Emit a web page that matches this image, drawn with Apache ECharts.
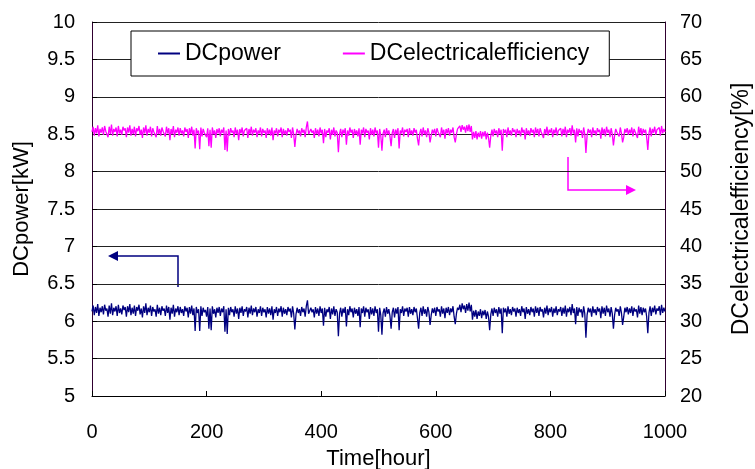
<!DOCTYPE html>
<html>
<head>
<meta charset="utf-8">
<script src="https://cdn.jsdelivr.net/npm/echarts@6/dist/echarts.min.js"></script>
<style>
  html, body { margin: 0; padding: 0; background: #fff; }
  #chart { width: 755px; height: 469px; }
</style>
</head>
<body>
<div id="chart"></div>
<script>
// logged every 2 hours, 0 .. 1000
const stepHour = 2;

// DC power [kW]
const dcPower = [
  6.13,6.21,6.08,6.19,6.11,6.23,6.07,6.18,6.12,6.20,
  6.09,6.22,6.14,6.17,6.06,6.21,6.10,6.24,6.08,6.18,
  6.13,6.20,6.07,6.22,6.11,6.17,6.09,6.21,6.15,6.19,
  6.06,6.20,6.12,6.23,6.08,6.18,6.10,6.21,6.07,6.19,
  6.14,6.22,6.09,6.17,6.05,6.20,6.11,6.24,6.08,6.18,
  6.12,6.21,6.07,6.19,6.13,6.16,6.06,6.22,6.10,6.18,
  6.08,6.20,6.14,6.17,6.07,6.21,6.11,6.19,6.02,6.18,
  6.10,6.22,6.06,6.17,6.12,6.20,6.08,6.19,6.11,6.16,
  6.07,6.20,6.13,6.18,6.05,6.19,6.10,6.21,6.08,6.17,
  5.87,6.19,6.11,6.16,5.87,6.20,6.07,6.18,6.12,6.15,
  6.06,6.19,5.90,6.17,5.88,6.20,6.10,6.16,6.05,6.18,
  6.11,6.19,6.07,6.17,6.12,6.20,5.86,6.16,5.83,6.18,
  6.08,6.19,6.12,6.16,6.06,6.20,6.10,6.17,6.03,6.18,
  6.11,6.20,6.07,6.16,6.13,6.19,6.05,6.18,6.10,6.21,
  6.08,6.17,6.12,6.19,6.06,6.16,6.11,6.20,6.07,6.18,
  6.12,6.16,6.05,6.19,6.10,6.17,6.08,6.20,6.02,6.16,
  6.11,6.19,6.07,6.17,6.12,6.20,6.06,6.18,6.10,6.16,
  6.08,6.19,6.13,6.17,6.05,6.20,6.10,5.89,6.09,6.18,
  6.11,6.16,6.07,6.19,6.12,6.17,6.06,6.20,6.28,6.10,
  6.08,6.18,6.12,6.16,6.05,6.19,6.10,6.17,6.07,6.20,
  6.11,6.17,5.94,6.18,6.06,6.16,6.12,6.19,6.03,6.17,
  6.09,6.20,6.07,6.16,6.12,5.80,6.10,6.18,6.06,6.17,
  6.11,6.19,5.93,6.16,6.08,6.20,6.12,6.17,6.05,6.18,
  6.10,6.16,6.07,6.19,5.92,6.17,6.11,6.20,6.06,6.18,
  6.12,6.16,6.03,6.19,6.09,6.17,6.07,6.20,6.11,6.16,
  5.86,6.18,6.08,5.82,6.11,6.17,6.06,6.19,6.10,6.16,
  6.07,5.90,6.12,6.18,6.05,6.17,6.10,6.19,5.88,6.16,
  6.11,6.20,6.07,6.17,6.13,6.18,6.06,6.19,6.10,6.16,
  6.08,6.19,6.12,6.17,6.04,5.90,6.11,6.18,6.07,6.20,
  6.10,6.16,6.06,6.19,6.12,5.95,6.08,6.17,6.11,6.18,
  6.07,6.19,6.13,6.16,6.06,6.20,6.10,6.17,6.04,6.18,
  6.11,6.19,6.08,6.17,6.12,6.20,6.06,5.96,6.10,6.18,
  6.15,6.22,6.12,6.24,6.16,6.21,6.11,6.23,6.14,6.25,
  6.13,6.22,6.02,6.14,6.06,6.15,6.03,6.13,6.07,6.16,
  6.04,6.14,6.08,6.15,6.03,6.13,6.06,5.88,6.09,6.17,
  6.07,6.18,6.11,6.16,6.06,6.19,6.10,6.17,5.84,6.18,
  6.12,6.17,6.06,6.20,6.10,6.16,6.08,6.19,6.13,6.17,
  6.06,6.18,6.11,6.16,6.07,6.20,6.12,6.17,6.03,6.19,
  6.10,6.16,6.08,6.19,6.12,6.17,6.06,6.20,6.11,6.18,
  6.07,6.19,6.13,6.16,6.05,6.18,6.10,6.21,6.08,6.17,
  6.12,6.19,6.06,6.17,6.11,6.20,6.08,6.16,6.13,6.19,
  6.07,6.18,6.10,6.21,6.06,6.17,6.12,6.19,6.08,6.23,
  6.11,6.17,5.96,6.19,6.07,6.18,6.12,6.16,6.05,6.20,
  6.10,5.78,6.08,6.18,6.12,6.17,6.06,6.20,6.11,6.16,
  6.08,6.19,6.13,6.17,6.04,6.20,6.10,6.18,6.07,6.21,
  6.12,6.17,6.06,6.19,6.10,5.90,6.08,6.18,6.13,6.16,
  6.07,6.20,6.11,5.95,6.06,6.18,6.12,6.19,6.09,6.17,
  6.11,6.20,6.07,6.18,6.13,6.16,6.05,6.21,6.10,6.19,
  6.08,6.18,6.12,6.17,6.06,5.84,6.11,6.20,6.07,6.18,
  6.12,6.21,6.09,6.17,6.14,6.20,6.08,6.22,6.11,6.18,
  6.13
];

// DC electrical efficiency [%]
const dcEfficiency = [
  55.3,56.0,54.8,55.8,55.1,56.2,54.7,55.7,55.2,55.9,
  54.9,56.1,55.4,55.6,54.6,56.0,55.0,56.3,54.8,55.7,
  55.3,55.9,54.7,56.1,55.1,55.6,54.9,56.0,55.5,55.8,
  54.6,55.9,55.2,56.2,54.8,55.7,55.0,56.0,54.7,55.8,
  55.4,56.1,54.9,55.6,54.5,55.9,55.1,56.2,54.8,55.7,
  55.2,56.0,54.7,55.8,55.3,55.5,54.6,56.1,55.0,55.7,
  54.8,55.9,55.4,55.6,54.7,56.0,55.1,55.8,54.2,55.7,
  55.0,56.1,54.6,55.6,55.2,55.9,54.8,55.8,55.1,55.5,
  54.7,55.9,55.3,55.7,54.5,55.8,55.0,56.0,54.8,55.6,
  53.1,55.8,55.1,55.5,53.0,55.9,54.7,55.7,55.2,55.4,
  54.6,55.8,53.4,55.6,53.2,55.9,55.0,55.5,54.5,55.7,
  55.1,55.8,54.7,55.6,55.2,55.9,52.9,55.5,52.7,55.7,
  54.8,55.8,55.2,55.5,54.6,55.9,55.0,55.6,54.2,55.7,
  55.1,55.9,54.7,55.5,55.3,55.8,54.5,55.7,55.0,56.0,
  54.8,55.6,55.2,55.8,54.6,55.5,55.1,55.9,54.7,55.7,
  55.2,55.5,54.5,55.8,55.0,55.6,54.8,55.9,54.2,55.5,
  55.1,55.8,54.7,55.6,55.2,55.9,54.6,55.7,55.0,55.5,
  54.8,55.8,55.3,55.6,54.5,55.9,55.0,53.3,54.9,55.7,
  55.1,55.5,54.7,55.8,55.2,55.6,54.6,55.9,56.7,55.0,
  54.8,55.7,55.2,55.5,54.5,55.8,55.0,55.6,54.7,55.9,
  55.1,55.6,53.8,55.7,54.6,55.5,55.2,55.8,54.3,55.6,
  54.9,55.9,54.7,55.5,55.2,52.6,55.0,55.7,54.6,55.6,
  55.1,55.8,53.6,55.5,54.8,55.9,55.2,55.6,54.5,55.7,
  55.0,55.5,54.7,55.8,53.6,55.6,55.1,55.9,54.6,55.7,
  55.2,55.5,54.3,55.8,54.9,55.6,54.7,55.9,55.1,55.5,
  53.2,55.7,54.8,52.8,55.1,55.6,54.6,55.8,55.0,55.5,
  54.7,53.4,55.2,55.7,54.5,55.6,55.0,55.8,53.1,55.5,
  55.1,55.9,54.7,55.6,55.3,55.7,54.6,55.8,55.0,55.5,
  54.8,55.8,55.2,55.6,54.4,53.5,55.1,55.7,54.7,55.9,
  55.0,55.5,54.6,55.8,55.2,53.9,54.8,55.6,55.1,55.7,
  54.7,55.8,55.3,55.5,54.6,55.9,55.0,55.6,54.4,55.7,
  55.1,55.8,54.8,55.6,55.2,55.9,54.6,53.9,55.0,55.7,
  55.5,56.1,55.3,56.2,55.6,56.0,55.2,56.2,55.4,56.3,
  55.3,56.1,54.3,55.3,54.5,55.4,54.3,55.2,54.6,55.4,
  54.4,55.3,54.7,55.4,54.3,55.2,54.5,53.2,54.8,55.6,
  54.7,55.7,55.1,55.5,54.6,55.8,55.0,55.6,52.8,55.7,
  55.2,55.6,54.6,55.9,55.0,55.5,54.8,55.8,55.3,55.6,
  54.6,55.7,55.1,55.5,54.7,55.9,55.2,55.6,54.3,55.8,
  55.0,55.5,54.8,55.8,55.2,55.6,54.6,55.9,55.1,55.7,
  54.7,55.8,55.3,55.5,54.5,55.7,55.0,56.0,54.8,55.6,
  55.2,55.8,54.6,55.6,55.1,55.9,54.8,55.5,55.3,55.8,
  54.7,55.7,55.0,56.0,54.6,55.6,55.2,55.8,54.8,56.2,
  55.1,55.6,53.9,55.8,54.7,55.7,55.2,55.5,54.5,55.9,
  55.0,52.5,54.8,55.7,55.2,55.6,54.6,55.9,55.1,55.5,
  54.8,55.8,55.3,55.6,54.4,55.9,55.0,55.7,54.7,56.0,
  55.2,55.6,54.6,55.8,55.0,53.5,54.8,55.7,55.3,55.5,
  54.7,55.9,55.1,53.9,54.6,55.7,55.2,55.8,54.9,55.6,
  55.1,55.9,54.7,55.7,55.3,55.5,54.5,56.0,55.0,55.8,
  54.8,55.7,55.2,55.6,54.6,52.9,55.1,55.9,54.7,55.7,
  55.2,56.0,54.9,55.6,55.4,55.9,54.8,56.1,55.1,55.7,
  55.3
];

const seriesNames = ['DCpower', 'DCelectricalefficiency'];
const xTicks = [0, 1000, 200];      // min, max, interval
const leftTicks = [5, 10, 0.5];
const rightTicks = [20, 70, 5];

const font = 'Arial, "Liberation Sans", sans-serif';
const blue = '#000080';
const pink = '#ff00ff';

function toPairs(values) {
  return values.map((v, i) => [i * stepHour, v]);
}

const chart = echarts.init(document.getElementById('chart'), null, {renderer: 'canvas'});

chart.setOption({
  animation: false,
  backgroundColor: '#fff',
  textStyle: {fontFamily: font, color: '#000'},
  grid: {left: 92, right: 90, top: 22, bottom: 73, outerBoundsMode: 'none'},
  legend: {
    data: seriesNames,
    left: 131,
    top: 31,
    padding: [11, 20, 11, 27],
    itemGap: 62,
    itemWidth: 22,
    itemHeight: 2,
    icon: 'rect',
    borderColor: '#000',
    borderWidth: 1,
    backgroundColor: '#fff',
    textStyle: {fontSize: 23, fontFamily: font, color: '#000'}
  },
  xAxis: {
    type: 'value',
    min: xTicks[0], max: xTicks[1], interval: xTicks[2],
    name: 'Time[hour]',
    nameLocation: 'middle',
    nameGap: 52,
    nameTextStyle: {fontSize: 22, fontFamily: font, color: '#000'},
    axisLine: {lineStyle: {color: '#000', width: 1}},
    axisTick: {inside: true, length: 5, lineStyle: {color: '#000'}},
    axisLabel: {fontSize: 20, fontFamily: font, color: '#000', margin: 26,
      formatter: v => String(v)},
    splitLine: {show: false}
  },
  yAxis: [
    {
      type: 'value',
      position: 'left',
      min: leftTicks[0], max: leftTicks[1], interval: leftTicks[2],
      name: 'DCpower[kW]',
      nameLocation: 'middle',
      nameGap: 59,
      nameTextStyle: {fontSize: 22, fontFamily: font, color: '#000'},
      axisLine: {show: true, lineStyle: {color: '#300030', width: 1}},
      axisTick: {show: true, inside: true, length: 5, lineStyle: {color: '#000'}},
      axisLabel: {fontSize: 20, fontFamily: font, color: '#000', margin: 17},
      splitLine: {show: true, lineStyle: {color: '#222', width: 1}}
    },
    {
      type: 'value',
      position: 'right',
      min: rightTicks[0], max: rightTicks[1], interval: rightTicks[2],
      name: 'DCelectricalefficiency[%]',
      nameLocation: 'middle',
      nameGap: 65,
      nameRotate: 90,
      nameTextStyle: {fontSize: 23, fontFamily: font, color: '#000'},
      axisLine: {show: true, lineStyle: {color: '#300030', width: 1}},
      axisTick: {show: true, inside: true, length: 5, lineStyle: {color: '#000'}},
      axisLabel: {fontSize: 20, fontFamily: font, color: '#000', margin: 15},
      splitLine: {show: false}
    }
  ],
  series: [
    {
      name: seriesNames[0],
      type: 'line',
      yAxisIndex: 0,
      data: toPairs(dcPower),
      showSymbol: false,
      color: blue,
      lineStyle: {color: blue, width: 1.3}
    },
    {
      name: seriesNames[1],
      type: 'line',
      yAxisIndex: 1,
      data: toPairs(dcEfficiency),
      showSymbol: false,
      color: pink,
      lineStyle: {color: pink, width: 1.3}
    }
  ],
  // the two "which axis" arrows
  graphic: [
    {type: 'polyline', shape: {points: [[178, 287], [178, 256], [116, 256]]},
      style: {stroke: blue, lineWidth: 1.5, fill: null}},
    {type: 'polygon', shape: {points: [[108, 256], [118, 251], [118, 261]]},
      style: {fill: blue}},
    {type: 'polyline', shape: {points: [[568, 157], [568, 190], [626, 190]]},
      style: {stroke: pink, lineWidth: 1.5, fill: null}},
    {type: 'polygon', shape: {points: [[636, 190], [626, 185], [626, 195]]},
      style: {fill: pink}}
  ]
});
</script>
</body>
</html>
